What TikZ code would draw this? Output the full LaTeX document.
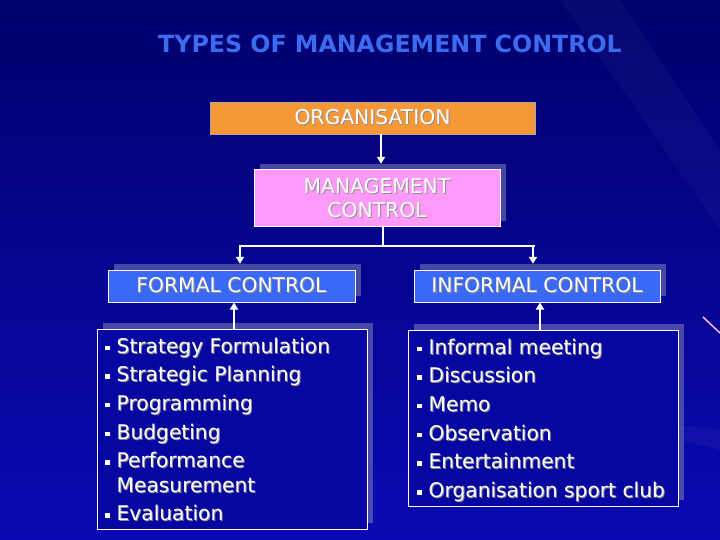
\documentclass[tikz,border=0pt]{standalone}
\usepackage{fontspec}
\setmainfont{DejaVu Sans}
\usetikzlibrary{arrows.meta}
\definecolor{bgdark}{RGB}{0,0,108}
\definecolor{bglight}{RGB}{10,10,180}
\definecolor{titleblue}{RGB}{61,107,240}
\definecolor{orgorange}{RGB}{247,152,55}
\definecolor{mcpink}{RGB}{255,153,250}
\definecolor{boxblue}{RGB}{58,106,245}
\definecolor{listblue}{RGB}{6,6,160}
\definecolor{shadowc}{RGB}{95,95,175}
\newcommand\shd[1]{\makebox[0pt][l]{\raisebox{-1pt}{\hspace{1pt}\textcolor{black!45}{#1}}}#1}
\newcommand\bul{\rule[3pt]{4.5pt}{4.5pt}}
\tikzset{
  box/.style={draw=white, line width=1pt, inner sep=0pt, rectangle},
  shadowbox/.style={fill=shadowc, opacity=0.75, inner sep=0pt, rectangle},
  lbl/.style={text=white, font=\fontsize{20.3}{24}\selectfont, align=center},
  item/.style={anchor=base west, text=white, font=\fontsize{20.2}{22}\selectfont, inner sep=0pt},
  conn/.style={white, line width=2.6pt},
  arr/.style={conn, -{Triangle[length=7pt,width=8pt]}}
}
\begin{document}
\begin{tikzpicture}[x=1pt,y=-1pt]
\useasboundingbox (0,0) rectangle (720,540);
% background
\shade[left color=bgdark, right color=bglight, shading angle=0] (0,0) rectangle (720,540);
\fill[white, opacity=0.03] (560,0) -- (620,0) -- (720,150) -- (720,230) -- cycle;
\fill[white, opacity=0.04] (640,420) -- (720,430) -- (720,450) -- (640,430) -- cycle;
\draw[mcpink!70!white, line width=1.5pt] (703,317) -- (720,333);
% title
\node[text=titleblue, font=\bfseries\fontsize{23.7}{26}\selectfont, anchor=base] (title) at (390,53) {TYPES OF MANAGEMENT CONTROL};
% organisation
\node[box, draw=gray!70, line width=0.6pt, fill=orgorange, minimum width=325pt, minimum height=32pt] (org) at (372.5,118) {};
\node[lbl] at (org) {\shd{ORGANISATION}};
% management control
\node[shadowbox, minimum width=246pt, minimum height=57pt] (mcs) at (383,192.5) {};
\node[box, fill=mcpink, minimum width=246pt, minimum height=57pt] (mc) at (377,198.5) {};
\node[lbl] at (mc) {\shd{MANAGEMENT}\\\shd{CONTROL}};
% formal / informal
\node[shadowbox, minimum width=247pt, minimum height=32pt] (fcs) at (237.5,280) {};
\node[box, fill=boxblue, minimum width=247pt, minimum height=32pt] (fc) at (231.5,286) {};
\node[lbl] at (fc) {\shd{FORMAL CONTROL}};
\node[shadowbox, minimum width=246pt, minimum height=32pt] (ics) at (543,280) {};
\node[box, fill=boxblue, minimum width=246pt, minimum height=32pt] (ic) at (537,286) {};
\node[lbl] at (ic) {\shd{INFORMAL CONTROL}};
% list boxes
\node[shadowbox, minimum width=270pt, minimum height=200pt] (fls) at (238,423) {};
\node[box, fill=listblue, minimum width=270pt, minimum height=200pt] (fl) at (232,429) {};
\node[shadowbox, minimum width=270pt, minimum height=176pt] (ils) at (549,412) {};
\node[box, fill=listblue, minimum width=270pt, minimum height=176pt] (il) at (543,418) {};
% connectors
\coordinate (j) at (383,246);
\draw[arr] (org.south -| 381,0) -- (mcs.north -| 381,0);
\draw[conn] (mc.south -| j) -- (j);
\draw[arr] (535,246) -- (240,246) -- (fcs.north -| 240,0);
\draw[arr] (533,246) -- (ics.north -| 533,0);
\draw[arr] (fl.north -| 234,0) -- (fc.south -| 234,0);
\draw[arr] (il.north -| 540,0) -- (ic.south -| 540,0);
% formal items
\node[item] (f1) at (105,353) {\bul\hspace{7pt}\shd{Strategy Formulation}};
\node[item] (f2) at (105,381.7) {\bul\hspace{7pt}\shd{Strategic Planning}};
\node[item] (f3) at (105,410.4) {\bul\hspace{7pt}\shd{Programming}};
\node[item] (f4) at (105,439.1) {\bul\hspace{7pt}\shd{Budgeting}};
\node[item] (f5) at (105,467.8) {\bul\hspace{7pt}\shd{Performance}};
\node[item] (f5b) at (116.5,492) {\shd{Measurement}};
\node[item] (f6) at (105,520.5) {\bul\hspace{7pt}\shd{Evaluation}};
% informal items
\node[item] (i1) at (417,354) {\bul\hspace{7pt}\shd{Informal meeting}};
\node[item] (i2) at (417,382.7) {\bul\hspace{7pt}\shd{Discussion}};
\node[item] (i3) at (417,411.4) {\bul\hspace{7pt}\shd{Memo}};
\node[item] (i4) at (417,440.1) {\bul\hspace{7pt}\shd{Observation}};
\node[item] (i5) at (417,468.8) {\bul\hspace{7pt}\shd{Entertainment}};
\node[item] (i6) at (417,497.5) {\bul\hspace{7pt}\shd{Organisation sport club}};
\end{tikzpicture}
\end{document}
